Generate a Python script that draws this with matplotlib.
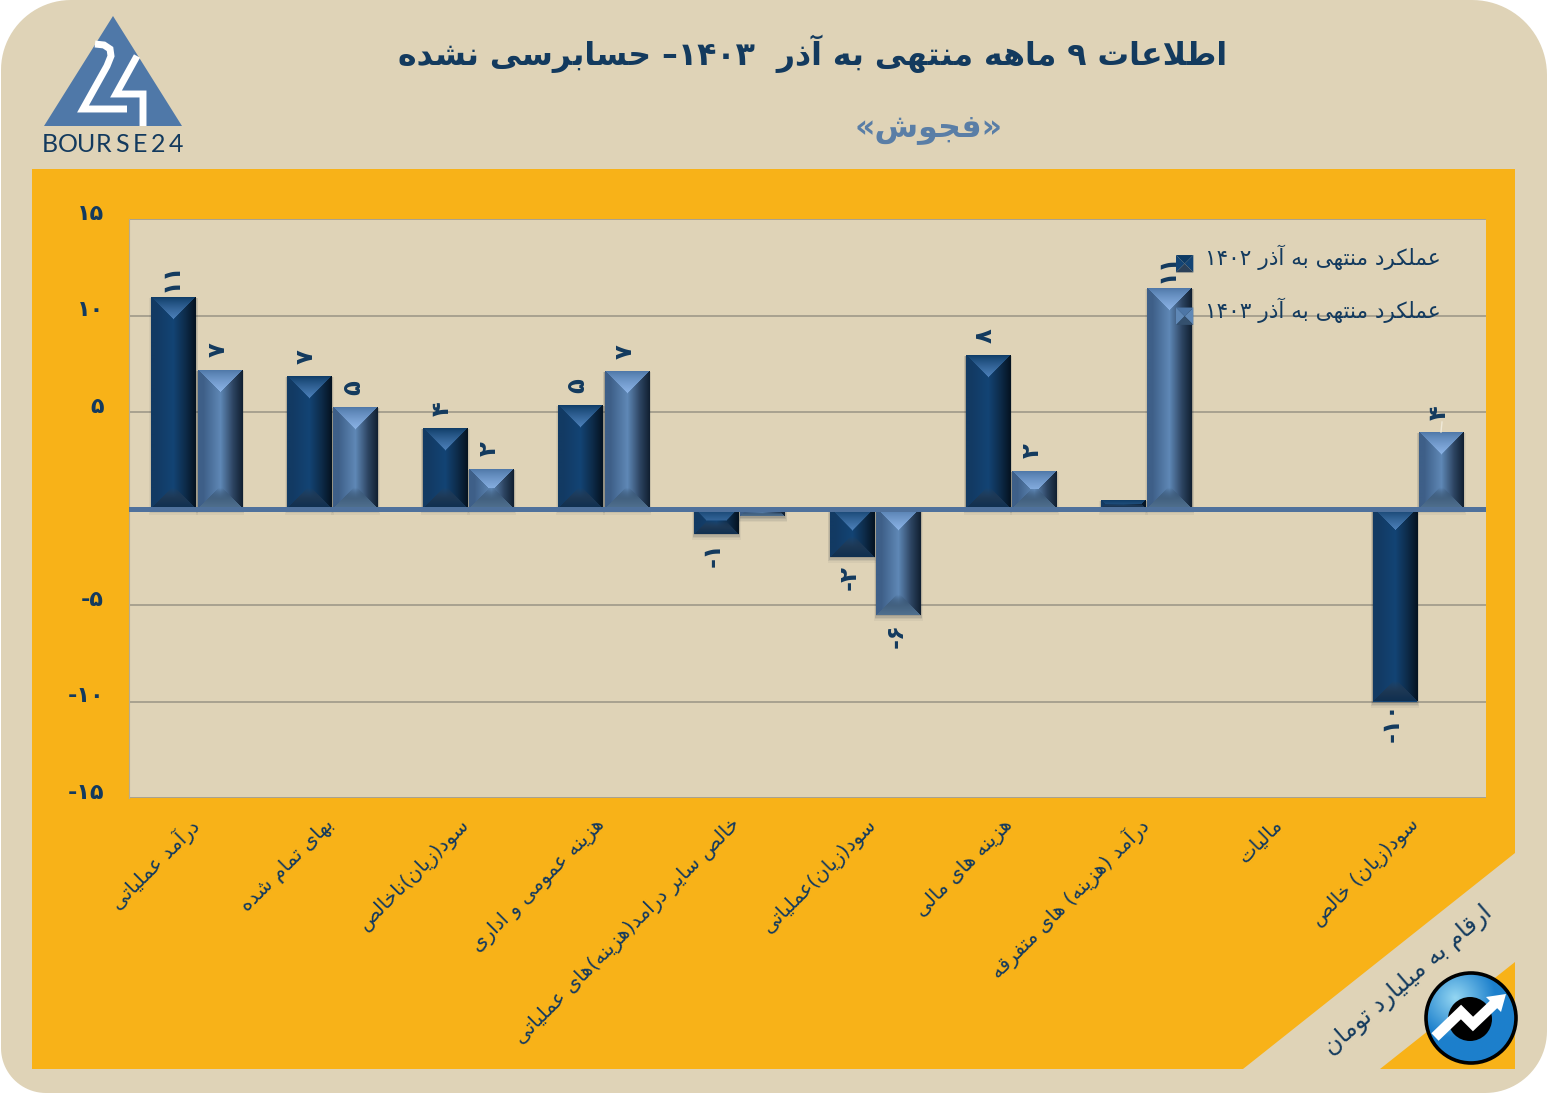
import numpy as np
import matplotlib
matplotlib.use('Agg')
import matplotlib.pyplot as plt
from matplotlib.patches import Polygon, Rectangle, Circle
from matplotlib.lines import Line2D
from matplotlib.legend_handler import HandlerBase
from matplotlib.transforms import ScaledTranslation

# ---------- data ----------
categories = ['درآمد عملیاتی', 'بهای تمام شده', 'سود(زیان)ناخالص', 'هزینه عمومی و اداری',
              'خالص سایر درامد(هزینه)های عملیاتی', 'سود(زیان)عملیاتی', 'هزینه های مالی',
              'درآمد (هزینه) های متفرقه', 'مالیات', 'سود(زیان) خالص']
values_1402 = [10.9, 6.8, 4.1, 5.3, -1.3, -2.5, 7.9, 0.4, 0.0, -10.0]
values_1403 = [7.15, 5.2, 2.0, 7.05, -0.4, -5.5, 1.9, 11.35, 0.0, 3.9]
labels_1402 = ['۱۱', '۷', '۴', '۵', '-۱', '-۲', '۸', None, None, '-۱۰']
labels_1403 = ['۷', '۵', '۲', '۷', None, '-۶', '۲', '۱۱', None, '۴']
yticks = [15, 10, 5, -5, -10, -15]
ytick_labels = ['۱۵', '۱۰', '۵', '-۵', '-۱۰', '-۱۵']
legend_1402 = 'عملکرد منتهی به آذر ۱۴۰۲'
legend_1403 = 'عملکرد منتهی به آذر ۱۴۰۳'
title_text = 'اطلاعات ۹ ماهه منتهی به آذر  ۱۴۰۳– حسابرسی نشده'
subtitle_text = '«فجوش»'
unit_text = 'ارقام به میلیارد تومان'
brand_text = 'BOURSE24'

# ---------- Persian shaping (matplotlib has no shaping / bidi) ----------
F = {'ب': 0xFE8F, 'ت': 0xFE95, 'ث': 0xFE99, 'ج': 0xFE9D, 'ح': 0xFEA1, 'خ': 0xFEA5, 'س': 0xFEB1,
     'ش': 0xFEB5, 'ص': 0xFEB9, 'ض': 0xFEBD, 'ط': 0xFEC1, 'ظ': 0xFEC5, 'ع': 0xFEC9, 'غ': 0xFECD,
     'ف': 0xFED1, 'ق': 0xFED5, 'ل': 0xFEDD, 'م': 0xFEE1, 'ن': 0xFEE5, 'ه': 0xFEE9, 'ی': 0xFBFC,
     'ک': 0xFB8E, 'گ': 0xFB92, 'پ': 0xFB56, 'چ': 0xFB7A}
R = {'آ': 0xFE81, 'ا': 0xFE8D, 'د': 0xFEA9, 'ذ': 0xFEAB, 'ر': 0xFEAD, 'ز': 0xFEAF, 'و': 0xFEED, 'ژ': 0xFB8A}
MIRROR = {'(': ')', ')': '(', '«': '»', '»': '«'}
DIG = set('۰۱۲۳۴۵۶۷۸۹')


def fa(s):
    s = s.replace('لا', '\uE000')
    out = []
    for i, c in enumerate(s):
        prev = s[i - 1] if i else ''
        nxt = s[i + 1] if i + 1 < len(s) else ''
        pj = prev in F
        nj = nxt in F or nxt in R or nxt == '\uE000'
        if c == '\uE000':
            out.append(chr(0xFEFC if pj else 0xFEFB))
        elif c in F:
            idx = (3 if nj else 1) if pj else (2 if nj else 0)
            out.append(chr(F[c] + idx))
        elif c in R:
            out.append(chr(R[c] + (1 if pj else 0)))
        else:
            out.append(MIRROR.get(c, c))
    r = out[::-1]
    i = 0
    res = []
    while i < len(r):
        if r[i] in DIG:
            j = i
            while j < len(r) and r[j] in DIG:
                j += 1
            res.extend(r[i:j][::-1])
            i = j
        else:
            res.append(r[i])
            i += 1
    return ''.join(res)


W, H = 1547, 1094
BEIGE = '#DFD3B7'
ORANGE = '#F8B218'
NAVY = '#133A5E'
plt.rcParams['font.family'] = ['DejaVu Sans']
fig = plt.figure(figsize=(W / 100, H / 100), dpi=100, facecolor='white')

# ---------- decoration layer in pixel coordinates ----------
bg = fig.add_axes([0, 0, 1, 1], zorder=0)
bg.set_xlim(0, W)
bg.set_ylim(H, 0)
bg.axis('off')


def rounded(x0, y0, x1, y1, rtl, rtr, rbr, rbl):
    pts = []
    for cx_, cy_, r, a0 in [(x0 + rtl, y0 + rtl, rtl, 180), (x1 - rtr, y0 + rtr, rtr, 270),
                            (x1 - rbr, y1 - rbr, rbr, 0), (x0 + rbl, y1 - rbl, rbl, 90)]:
        for a in np.radians(np.linspace(a0, a0 + 90, 24)):
            pts.append((cx_ + r * np.cos(a), cy_ + r * np.sin(a)))
    return pts


bg.add_patch(Polygon(rounded(1, 0, W, 1093, 70, 75, 62, 45), fc=BEIGE, ec='none', zorder=0))
bg.add_patch(Polygon([(32, 169), (1515, 169), (1515, 853), (1243, 1069), (32, 1069)], fc=ORANGE, ec='none', zorder=1))
bg.add_patch(Polygon([(1515, 962), (1515, 1069), (1380, 1069)], fc=ORANGE, ec='none', zorder=1))

# logo
bg.add_patch(Polygon([(113, 16), (44, 126), (182, 126)], fc='#4F78A8', ec='none', zorder=2))
bg.plot([95, 104, 110, 111, 107, 83, 127], [44, 45, 49, 56, 66, 109, 109], color='white', lw=5, zorder=3,
        solid_joinstyle='miter', solid_capstyle='butt')
bg.plot([137, 116, 143, 143], [56, 94, 94, 126], color='white', lw=5, zorder=3,
        solid_joinstyle='miter', solid_capstyle='butt')
for ch, x in zip(brand_text, np.linspace(50, 176, len(brand_text))):
    bg.text(x, 144, ch, ha='center', va='center', fontsize=18, color=NAVY, family='Lato', zorder=3)

bg.text(813, 54, fa(title_text), ha='center', va='center', fontsize=22.7, fontweight='bold', color=NAVY)
bg.text(929, 128, fa(subtitle_text), ha='center', va='center', fontsize=22.8, fontweight='bold', color='#5A7EA6')
bg.text(1408, 980, fa(unit_text), ha='center', va='center', rotation=41, rotation_mode='anchor',
        fontsize=17.2, color=NAVY)

# round badge
cx, cy, rr = 1471, 1018, 45
yy, xx = np.mgrid[-1:1:200j, -1:1:200j]
dist = np.hypot(xx + 0.35, yy + 0.45)
c0, c1 = np.array([0.58, 0.84, 0.95]), np.array([0.11, 0.50, 0.80])
t = np.clip(dist / 0.9, 0, 1)[..., None]
im = bg.imshow(c0 * (1 - t) + c1 * t, extent=(cx - rr, cx + rr, cy + rr, cy - rr), zorder=4, aspect='auto')
im.set_clip_path(Circle((cx, cy), rr, transform=bg.transData))
bg.add_patch(Circle((cx, cy), rr, fc='none', ec='black', lw=2.6, zorder=7))
bg.add_patch(Circle((cx - 1, cy + 1), 22, fc='black', ec='none', zorder=5))
bg.plot([1435, 1461, 1473, 1494], [1037, 1012, 1024, 1004], color='white', lw=7.5, zorder=6,
        solid_joinstyle='miter', solid_capstyle='butt')
bg.add_patch(Polygon([(1506, 994), (1501, 1012), (1486, 997)], fc='white', ec='none', zorder=6))
bg.set_xlim(0, W)
bg.set_ylim(H, 0)

# ---------- plot ----------
L, R_, T, B = 129, 1486, 219, 798
ax = fig.add_axes([L / W, 1 - B / H, (R_ - L) / W, (B - T) / H], zorder=1)
ax.set_facecolor(BEIGE)
ax.set_xlim(0, len(categories))
ax.set_ylim(-15, 15)
for s in ['top', 'right', 'bottom']:
    ax.spines[s].set_visible(False)
ax.spines['left'].set_color('#B5AC97')
ax.spines['left'].set_linewidth(0.8)
ax.set_axisbelow(True)
ax.yaxis.grid(True, color='#A8A18F', lw=1.4)
ax.set_yticks(yticks)
ax.set_yticklabels(ytick_labels, fontsize=16, fontweight='bold', color=NAVY)
ax.tick_params(axis='y', length=0, pad=18)
for lab in ax.get_yticklabels():
    lab.set_transform(lab.get_transform() + ScaledTranslation(0, 7 / 100, fig.dpi_scale_trans))
ax.set_xticks(np.arange(len(categories)) + 0.5)
ax.set_xticklabels([fa(c) for c in categories], rotation=45, ha='right', va='top', rotation_mode='anchor',
                   fontsize=14.4, color=NAVY)
ax.tick_params(axis='x', length=0, pad=12)
for lab in ax.get_xticklabels():
    lab.set_transform(lab.get_transform() + ScaledTranslation(-9 / 100, 0, fig.dpi_scale_trans))

DARK = dict(left='#123A63', mid='#134474', right='#04121F', apex='#4E82BC', tedge='#0D3A64',
            bot='#2B4058', bedge='#0F2F50')
LIGHT = dict(left='#3E5F88', mid='#5F88B6', right='#101F30', apex='#8DB5E8', tedge='#4D76A6',
             bot='#34506E', bedge='#50708F')


def rgb(h):
    return np.array(matplotlib.colors.to_rgb(h))


def bevel(w, h, p):
    w, h = max(int(round(w)), 2), max(int(round(h)), 2)
    v, u = np.mgrid[0:h, 0:w]
    u = u + .5
    v = v + .5
    s = u / w
    knots = [0, 0.12, 0.5, 0.78, 1]
    cols = np.array([rgb(p['left']), rgb(p['left']), rgb(p['mid']), rgb(p['left']) * .72, rgb(p['right'])])
    img = np.stack([np.interp(s, knots, cols[:, i]) for i in range(3)], -1)
    side = np.minimum(u, w - u)
    b = min(w / 2, 22, h / 2)
    top = (v < side) & (v < b)
    f = np.clip(v / (w / 2), 0, 1)[..., None] ** 0.8
    img = np.where(top[..., None], rgb(p['tedge']) * (1 - f) + rgb(p['apex']) * f, img)
    b2 = min(w / 2, 20, h / 2)
    d = h - v
    bot = (d < side) & (d < b2)
    f = np.clip(d / b2, 0, 1)[..., None]
    band = rgb(p['bedge']) * (1 - f) + rgb(p['bot']) * f
    alpha = np.clip(1.25 * (1 - f ** 2), 0, 1)
    img = np.where(bot[..., None], img * (1 - alpha) + band * alpha, img)
    return img


def px_per_unit():
    return (R_ - L) / len(categories), (B - T) / 30


def draw_series(x, vals, width, pal, labels, dx_pts):
    bars = ax.bar(x, vals, width, color=pal['mid'], zorder=3)
    ux, uy = px_per_unit()
    for bar, val, lab in zip(bars, vals, labels):
        if val != 0:
            x0, w0 = bar.get_x(), bar.get_width()
            lo, hi = min(0, val), max(0, val)
            # soft shadow around and below the bar
            for k, a, sd in zip((6, 4.5, 3, 1.5), (.05, .07, .10, .12), (2, 1.4, .8, .3)):
                ax.add_patch(Rectangle((x0 - sd / ux, lo - k / uy), w0 + 2 * sd / ux, hi - lo + k / uy,
                                       fc='#1C2A38', alpha=a, ec='none', zorder=2.5))
            ax.imshow(bevel(w0 * ux, abs(val) * uy, pal), extent=(x0, x0 + w0, lo, hi), aspect='auto',
                      zorder=3.2, interpolation='bilinear')
        if lab:
            ax.annotate(lab, (bar.get_x() + bar.get_width() / 2, val), xytext=(dx_pts, 15 if val > 0 else -15),
                        textcoords='offset points', ha='center', va='center', rotation=90,
                        fontsize=17.5, fontweight='bold', color=NAVY, zorder=6)


idx = np.arange(len(categories)) + 0.5
bw = 0.33
draw_series(idx - 0.17, values_1402, bw, DARK, labels_1402, -2.5)
draw_series(idx + 0.17, values_1403, bw, LIGHT, labels_1403, -2)
ax.set_xlim(0, len(categories))
ax.set_ylim(-15, 15)
ax.axhline(0, color='#4F719C', lw=3.6, zorder=5)


class Swatch(HandlerBase):
    def __init__(self, pal):
        super().__init__()
        self.pal = pal

    def create_artists(self, legend, orig, xd, yd, w, h, fs, trans):
        p = self.pal
        x0, y0 = -xd, -yd - 5
        x1, y1 = x0 + w, y0 + w
        xm, ym = (x0 + x1) / 2, (y0 + y1) / 2
        parts = [Polygon([(x0, y0), (xm, ym), (x0, y1)], fc=p['mid'], ec='none'),
                 Polygon([(x1, y0), (xm, ym), (x1, y1)], fc=p['mid'], ec='none'),
                 Polygon([(x0, y1), (xm, ym), (x1, y1)], fc=p['tedge'], ec='none'),
                 Polygon([(x0, y0), (xm, ym), (x1, y0)], fc=p['bot'], ec='none')]
        for a in parts:
            a.set_transform(trans)
        return parts


h1, = ax.plot([], [], label=fa(legend_1402))
h2, = ax.plot([], [], label=fa(legend_1403))
leg = ax.legend(handles=[h1, h2], loc='upper left', bbox_to_anchor=((1176 - L) / (R_ - L), 1 - 26 / (B - T)),
                frameon=False, fontsize=15.6, labelcolor=NAVY, handlelength=0.8, handletextpad=0.55,
                labelspacing=1.25, borderpad=0, borderaxespad=0,
                handler_map={h1: Swatch(DARK), h2: Swatch(LIGHT)})
leg.set_zorder(8)

# faint leader line under the last data label
fig.add_artist(Line2D([1442 / W, 1441 / W], [1 - 422 / H, 1 - 432 / H], color='#EFE9D8', lw=1, zorder=5))

fig.savefig('out.png', dpi=100, facecolor='white')
